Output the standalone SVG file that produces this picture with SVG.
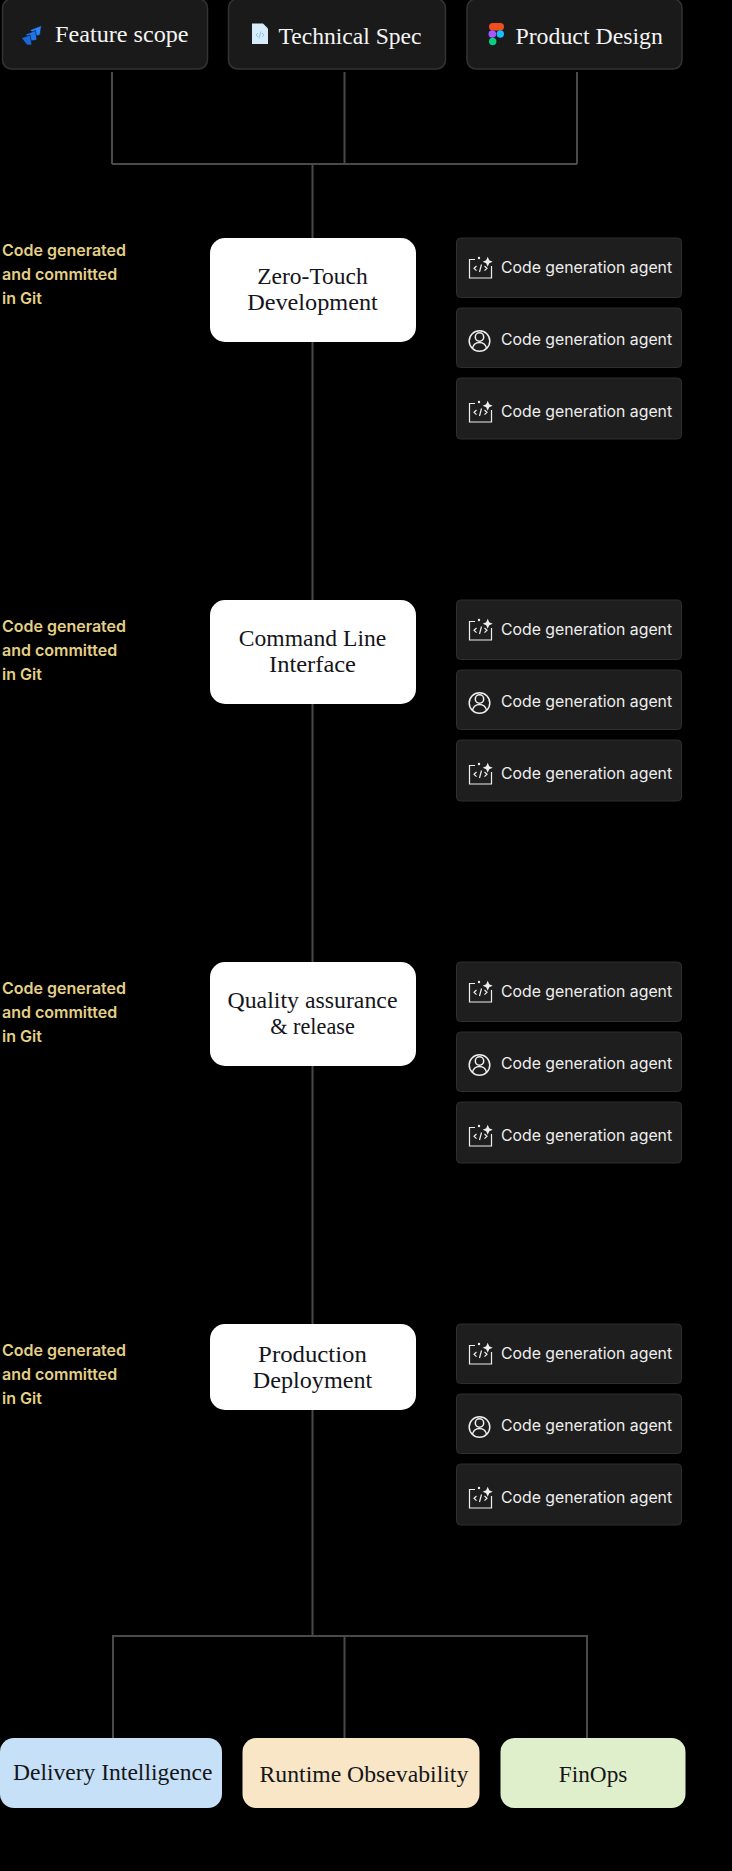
<svg xmlns="http://www.w3.org/2000/svg" xmlns:xlink="http://www.w3.org/1999/xlink" width="732" height="1871" viewBox="0 0 732 1871">
<style>
.src{fill:#1a1a1a;stroke:#333;stroke-width:1.5}
.agent{fill:#1e1e1e;stroke:#2e2e2e;stroke-width:1}
.stage{fill:#fff}
.line{fill:none;stroke:#4a4a4a;stroke-width:2}
.serif{font-family:"Liberation Serif","DejaVu Serif",serif;font-size:24px;text-anchor:middle}
.lt{fill:#f4f4f4}
.dk{fill:#15151a}
.note{font-family:Inter,"Liberation Sans",sans-serif;font-size:16px;font-weight:600;fill:#e3cf86}
.at{font-family:Inter,"Liberation Sans",sans-serif;font-size:15.8px;fill:#eee}
.ic{fill:none;stroke:#eee;stroke-width:1.2}
</style>
<defs>
<g id="ic-code">
<path class="ic" d="M475 259.500h-5.500v18.500h22v-12"/>
<path d="M487.700 256.800l1.500 3.500 3.500 1.500-3.500 1.500-1.500 3.500-1.500-3.500-3.500-1.500 3.500-1.500z" fill="#eee"/>
<circle cx="479" cy="258" r="1.200" fill="#eee"/>
<path class="ic" stroke-width="1" d="M476.500 266l-2.500 2.300 2.500 2.300M484.500 266l2.500 2.300-2.500 2.300M481.500 264.500l-2 7.500"/>
</g>
<g id="ic-user">
<circle class="ic" cx="479.500" cy="341" r="10.300" style="stroke-width:1.500"/>
<circle class="ic" cx="479.500" cy="337" r="4.200" style="stroke-width:1.500"/>
<path class="ic" style="stroke-width:1.500" d="M472.300 348.500c1-4 3.800-6 7.200-6s6.200 2 7.200 6"/>
</g>
<g id="agents">
<rect class="agent" x="456.500" y="238" width="225" height="59.500" rx="4"/>
<use xlink:href="#ic-code"/>
<text class="at" x="501" y="273">Code generation agent</text>
<rect class="agent" x="456.500" y="308" width="225" height="59.500" rx="4"/>
<use xlink:href="#ic-user"/>
<text class="at" x="501" y="345">Code generation agent</text>
<rect class="agent" x="456.500" y="378" width="225" height="61" rx="4"/>
<use xlink:href="#ic-code" y="144"/>
<text class="at" x="501" y="417">Code generation agent</text>
</g>
<g id="note">
<text class="note" x="2" y="256">Code generated</text>
<text class="note" x="2" y="280">and committed</text>
<text class="note" x="2" y="304">in Git</text>
</g>
</defs>
<rect width="732" height="1871" fill="#000"/>
<g id="connectors">
<path class="line" d="M112 72V164M344.500 72V164M577 72V164M112 164H577"/>
<path class="line" d="M312.500 164V1636"/>
<path class="line" d="M113 1738V1636H587V1738M344.500 1636V1738"/>
</g>
<g id="src-feature">
<rect class="src" x="2.500" y="-1" width="205" height="70" rx="9"/>
<g fill="#2684ff" stroke="#1a1a1a" stroke-width="0.7">
<path d="M30 30L41.500 25.500L40 35L36 36z"/>
<path d="M25.500 34.500L35.500 30.500L37 40L31 41z" fill="#1f74ec"/>
<path d="M21.500 38L30 35L32 45L27 45z" fill="#1868db"/>
</g>
<text class="serif lt" x="121.800" y="42" textLength="133.500" lengthAdjust="spacingAndGlyphs">Feature scope</text>
</g>
<g id="src-spec">
<rect class="src" x="228.500" y="-1" width="217" height="70" rx="9"/>
<path d="M252 23.500h11l5 5v15.500h-16z" fill="#d6ecfb"/>
<path d="M258 33l-2 2 2 2M262 33l2 2-2 2M261 31.500l-2 7" fill="none" stroke="#8cc4ec" stroke-width="1"/>
<text class="serif lt" x="350" y="43.500" textLength="143" lengthAdjust="spacingAndGlyphs">Technical Spec</text>
</g>
<g id="src-design">
<rect class="src" x="467" y="-1" width="215" height="70" rx="9"/>
<rect x="489" y="23" width="15" height="7.500" rx="3.700" fill="#f24e1e"/>
<circle cx="492.300" cy="34" r="3.800" fill="#a259ff"/>
<circle cx="500.300" cy="34" r="3.700" fill="#1abcfe"/>
<circle cx="492.700" cy="41.500" r="3.700" fill="#0acf83"/>
<text class="serif lt" x="589.200" y="43.500" textLength="147.500" lengthAdjust="spacingAndGlyphs">Product Design</text>
</g>
<g id="stage-1">
<rect class="stage" x="210" y="238" width="206" height="104" rx="15"/>
<text class="serif dk" x="312.500" y="284" textLength="110.600" lengthAdjust="spacingAndGlyphs">Zero-Touch</text>
<text class="serif dk" x="312.500" y="310" textLength="130.700" lengthAdjust="spacingAndGlyphs">Development</text>
<use xlink:href="#note"/><use xlink:href="#agents"/>
</g>
<g id="stage-2">
<rect class="stage" x="210" y="600" width="206" height="104" rx="15"/>
<text class="serif dk" x="312.500" y="646" textLength="147.500" lengthAdjust="spacingAndGlyphs">Command Line</text>
<text class="serif dk" x="312.500" y="672" textLength="87" lengthAdjust="spacingAndGlyphs">Interface</text>
<use xlink:href="#note" y="376"/><use xlink:href="#agents" y="362"/>
</g>
<g id="stage-3">
<rect class="stage" x="210" y="962" width="206" height="104" rx="15"/>
<text class="serif dk" x="312.500" y="1008.300" textLength="170" lengthAdjust="spacingAndGlyphs">Quality assurance</text>
<text class="serif dk" x="312.500" y="1034" textLength="84.500" lengthAdjust="spacingAndGlyphs">&amp; release</text>
<use xlink:href="#note" y="738"/><use xlink:href="#agents" y="724"/>
</g>
<g id="stage-4">
<rect class="stage" x="210" y="1324" width="206" height="86" rx="15"/>
<text class="serif dk" x="312.500" y="1362" textLength="108.800" lengthAdjust="spacingAndGlyphs">Production</text>
<text class="serif dk" x="312.500" y="1388" textLength="119.500" lengthAdjust="spacingAndGlyphs">Deployment</text>
<use xlink:href="#note" y="1100"/><use xlink:href="#agents" y="1086"/>
</g>
<g id="out-delivery">
<rect x="0" y="1738" width="222" height="70" rx="14" fill="#c6e1f7"/>
<text class="serif dk" x="112.700" y="1780" textLength="199.300" lengthAdjust="spacingAndGlyphs">Delivery Intelligence</text>
</g>
<g id="out-runtime">
<rect x="242.500" y="1738" width="237" height="70" rx="14" fill="#f9e6c6"/>
<text class="serif dk" x="363.900" y="1781.500" textLength="208.700" lengthAdjust="spacingAndGlyphs">Runtime Obsevability</text>
</g>
<g id="out-finops">
<rect x="500.500" y="1738" width="185" height="70" rx="14" fill="#e0efcb"/>
<text class="serif dk" x="593.100" y="1781.500" textLength="68.600" lengthAdjust="spacingAndGlyphs">FinOps</text>
</g>
</svg>
